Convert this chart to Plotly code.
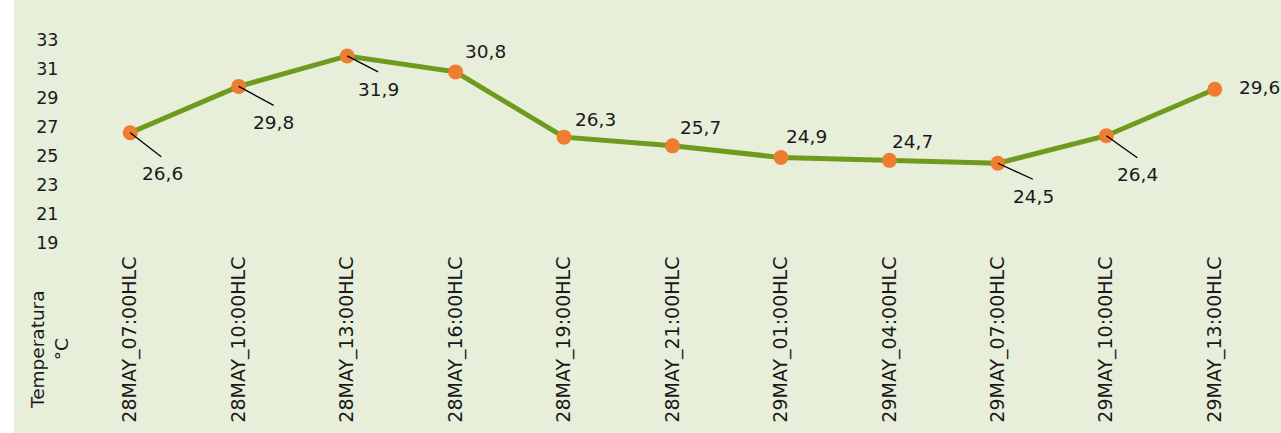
import plotly.graph_objects as go

categories = ["28MAY_07:00HLC", "28MAY_10:00HLC", "28MAY_13:00HLC", "28MAY_16:00HLC",
              "28MAY_19:00HLC", "28MAY_21:00HLC", "29MAY_01:00HLC", "29MAY_04:00HLC",
              "29MAY_07:00HLC", "29MAY_10:00HLC", "29MAY_13:00HLC"]
temps = [26.6, 29.8, 31.9, 30.8, 26.3, 25.7, 24.9, 24.7, 24.5, 26.4, 29.6]
ytick_vals = [19, 21, 23, 25, 27, 29, 31, 33]
y_title = "Temperatura<br>°C"

# label placement (pixel offsets of label centre from point), leader line ends
label_offsets = [(32, 41), (35, 36), (31, 34), (30, -20), (31, -18), (28, -18),
                 (26, -21), (23, -19), (36, 33), (31, 39), (45, -2)]
leaders = [(31, 24), (35, 19), (31, 16), None, None, None, None, None, (35, 16), (31, 22), None]

BG = "#E7EFDA"
FONT = "DejaVu Sans"
TXT = "#1a1a1a"

fig = go.Figure()
fig.add_trace(go.Scatter(
    x=categories, y=temps, mode="lines+markers",
    line=dict(color="#6E9B1E", width=5),
    marker=dict(color="#ED7D31", size=15),
    hoverinfo="skip", showlegend=False, cliponaxis=False,
))

for cat, v, (dx, dy), ld in zip(categories, temps, label_offsets, leaders):
    fig.add_annotation(x=cat, y=v, text=f"{v:.1f}".replace(".", ","), showarrow=False,
                       xanchor="center", yanchor="middle", xshift=dx, yshift=-dy,
                       font=dict(family=FONT, size=18.5, color=TXT))
    if ld is not None:
        fig.add_shape(type="line", xref="x", yref="y", xsizemode="pixel", ysizemode="pixel",
                      xanchor=cat, yanchor=v, x0=0, y0=0, x1=ld[0], y1=-ld[1],
                      line=dict(color="#000000", width=1.3), layer="above")

W, H = 1281, 433
ml, mr, mt, mb = 76, 12, 40, 190
pw, ph = W - ml - mr, H - mt - mb

fig.add_annotation(xref="paper", yref="paper", x=(49 - ml) / pw, y=(H - mb - 350) / ph,
                   text=y_title, showarrow=False, textangle=-90,
                   xanchor="center", yanchor="middle",
                   font=dict(family=FONT, size=18.5, color=TXT))

fig.add_shape(type="rect", xref="paper", yref="paper",
              x0=-ml / pw - 0.01, x1=(14 - ml) / pw, y0=-mb / ph - 0.1, y1=1 + mt / ph + 0.1,
              fillcolor="white", line=dict(width=0), layer="below")

fig.update_layout(
    width=W, height=H,
    margin=dict(l=ml, r=mr, t=mt, b=mb, autoexpand=False),
    paper_bgcolor=BG, plot_bgcolor=BG,
    font=dict(family=FONT, size=18, color=TXT),
    xaxis=dict(type="category", range=[-0.5, len(categories) - 0.5], automargin=False,
               showgrid=False, zeroline=False, showline=False,
               tickangle=-90, ticks="outside", ticklen=5, tickcolor="rgba(0,0,0,0)",
               tickfont=dict(family=FONT, size=19, color=TXT)),
    yaxis=dict(range=[19, 33], tickvals=ytick_vals, automargin=False, showgrid=False,
               zeroline=False, showline=False, ticks="outside", ticklen=13,
               tickcolor="rgba(0,0,0,0)",
               tickfont=dict(family=FONT, size=17.5, color=TXT)),
)

fig.write_html("out.html", config={"displayModeBar": False, "staticPlot": True},
               post_script="document.body.style.margin='0';document.body.style.overflow='hidden';")
